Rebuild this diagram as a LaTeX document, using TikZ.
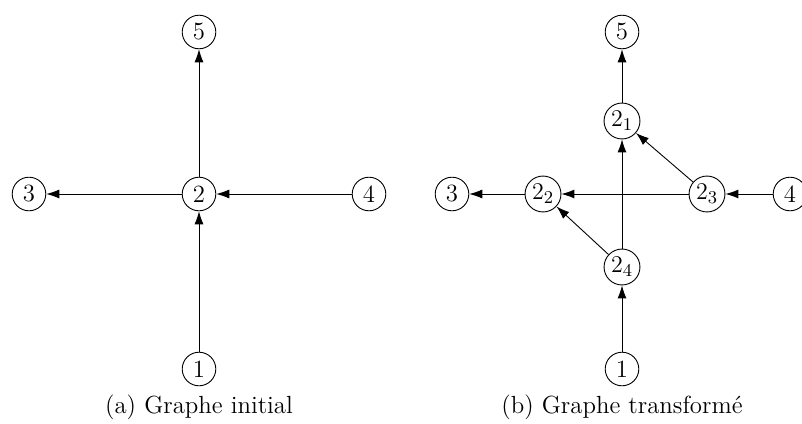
\documentclass[tikz,border=0pt]{standalone}
\usetikzlibrary{arrows.meta}
\begin{document}
\begin{tikzpicture}[x=0.5pt,y=-0.5pt,
  font=\fontsize{12.4}{15}\selectfont,
  vtx/.style={draw,circle,minimum size=16.8pt,inner sep=1.2pt,line width=0.45pt},
  arr/.style={-{Latex[length=6.5pt,width=4.5pt]},line width=0.45pt},
  captext/.style={inner sep=0pt}]
\useasboundingbox (0,0) rectangle (802,423);
% left graph
\node[vtx] (a5) at (199,32) {5};
\node[vtx] (a3) at (29,194) {3};
\node[vtx] (a2) at (199,194) {2};
\node[vtx] (a4) at (369,194) {4};
\node[vtx] (a1) at (199,369) {1};
\draw[arr] (a2) -- (a5);
\draw[arr] (a2) -- (a3);
\draw[arr] (a4) -- (a2);
\draw[arr] (a1) -- (a2);
\node[captext] (ca) at (199,407) {(a) Graphe initial};
% right graph
\node[vtx] (b5) at (622,32) {5};
\node[vtx] (b21) at (622,121) {$2_1$};
\node[vtx] (b3) at (452,194) {3};
\node[vtx] (b22) at (543,194) {$2_2$};
\node[vtx] (b23) at (707,194) {$2_3$};
\node[vtx] (b4) at (790,194) {4};
\node[vtx] (b24) at (622,267) {$2_4$};
\node[vtx] (b1) at (622,369) {1};
\draw[arr] (b21) -- (b5);
\draw[arr] (b22) -- (b3);
\draw[arr] (b23) -- (b22);
\draw[arr] (b4) -- (b23);
\draw[arr] (b24) -- (b21);
\draw[arr] (b23) -- (b21);
\draw[arr] (b24) -- (b22);
\draw[arr] (b1) -- (b24);
\node[captext] (cb) at (622,407) {(b) Graphe transform\'e};
\end{tikzpicture}
\end{document}
